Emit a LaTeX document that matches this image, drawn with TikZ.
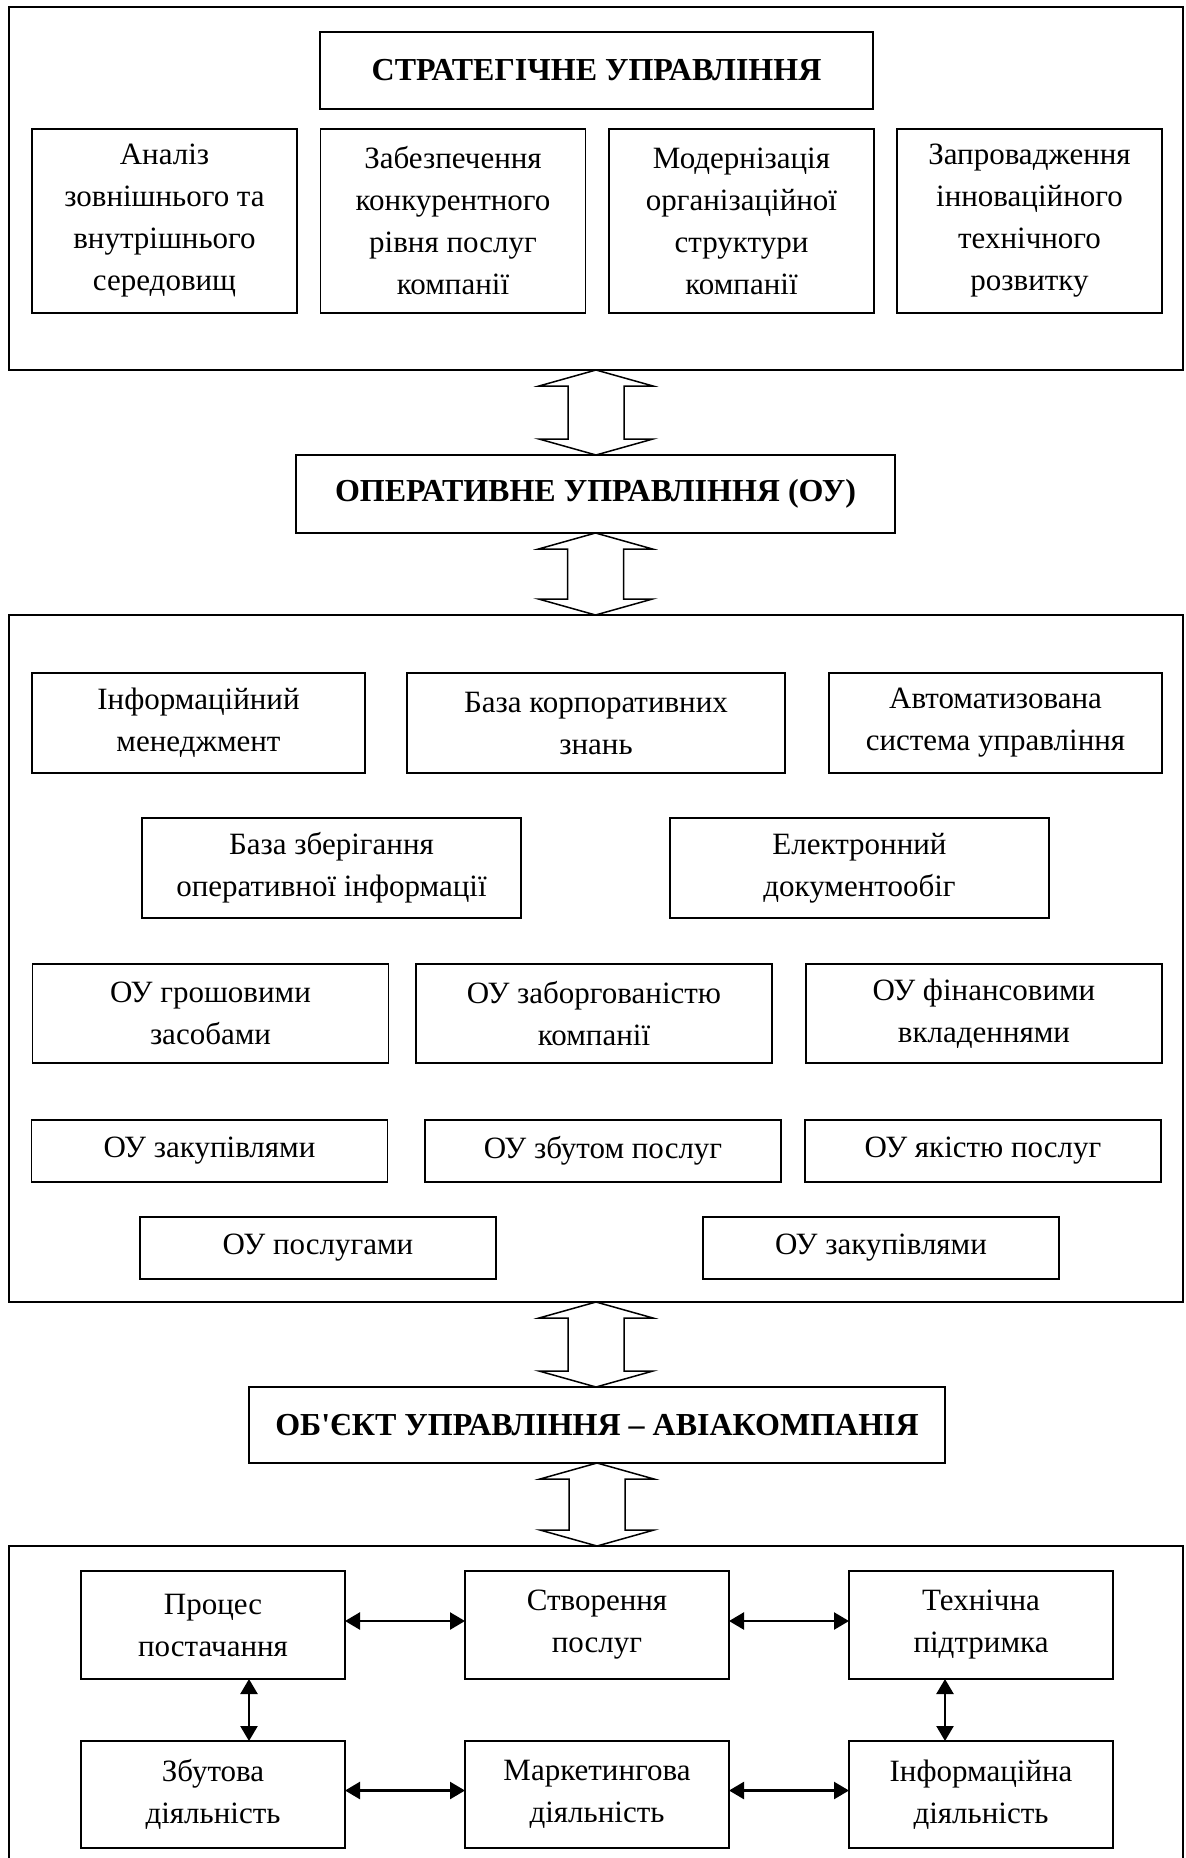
\documentclass[tikz,border=0pt]{standalone}
\usepackage{fontspec}
\setmainfont{Liberation Serif}
\usetikzlibrary{arrows.meta, calc}

\tikzset{
    box/.style={draw, line width=0.8pt, align=center, inner sep=0pt, outer sep=0pt,
        font=\fontsize{15.5}{21}\selectfont},
    title/.style={box, font=\fontsize{16}{21}\selectfont\bfseries},
    frame/.style={draw, line width=0.8pt, inner sep=0pt, outer sep=0pt, minimum width=587pt},
    dbl/.style={draw, fill=white, line width=0.75pt, line join=miter},
    link/.style={{Triangle[length=7.5pt, width=8.5pt]}-{Triangle[length=7.5pt, width=8.5pt]}, line width=1.2pt},
}

\begin{document}
\begin{tikzpicture}[x=0.5pt, y=-0.5pt]
    \useasboundingbox (0,0) rectangle (1185,1858);

    % рамки рівнів
    \node[frame, minimum height=181.5pt] (F1) at (596, 188.5) {};
    \node[frame, minimum height=343.5pt] (F2) at (596, 958.5) {};
    \node[frame, minimum height=167pt] (F3) at (596, 1713) {};

    % стратегічне управління
    \node[title, minimum width=276.5pt, minimum height=38.5pt] (SU) at (596.5, 70.5) {СТРАТЕГІЧНЕ УПРАВЛІННЯ};
    \node[box, minimum width=132.5pt, minimum height=92pt] (A1) at (164.5, 221) {Аналіз\\зовнішнього та\\внутрішнього\\середовищ};
    \node[box, minimum width=132.5pt, minimum height=92pt] (A2) at (453, 221) {Забезпечення\\конкурентного\\рівня послуг\\компанії};
    \node[box, minimum width=132.5pt, minimum height=92pt] (A3) at (741.5, 221) {Модернізація\\організаційної\\структури\\компанії};
    \node[box, minimum width=132.5pt, minimum height=92pt] (A4) at (1029.5, 221) {Запровадження\\інноваційного\\технічного\\розвитку};

    % оперативне управління
    \node[title, minimum width=299.5pt, minimum height=39pt] (OU) at (595.5, 494) {ОПЕРАТИВНЕ УПРАВЛІННЯ (ОУ)};

    \node[box, minimum width=166.5pt, minimum height=50pt] (B1) at (198.5, 723) {Інформаційний\\менеджмент};
    \node[box, minimum width=189pt, minimum height=50pt] (B2) at (596, 723) {База корпоративних\\знань};
    \node[box, minimum width=166.5pt, minimum height=50pt] (B3) at (995.5, 723) {Автоматизована\\система управління};
    \node[box, minimum width=189.5pt, minimum height=50pt] (B4) at (331.5, 868) {База зберігання\\оперативної інформації};
    \node[box, minimum width=189.5pt, minimum height=50pt] (B5) at (859.5, 868) {Електронний\\документообіг};
    \node[box, minimum width=178pt, minimum height=49.5pt] (B6) at (210.5, 1013.5) {ОУ грошовими\\засобами};
    \node[box, minimum width=178pt, minimum height=49.5pt] (B7) at (594, 1013.5) {ОУ заборгованістю\\компанії};
    \node[box, minimum width=178pt, minimum height=49.5pt] (B8) at (984, 1013.5) {ОУ фінансовими\\вкладеннями};
    \node[box, minimum width=178pt, minimum height=31pt] (B9) at (209.5, 1151) {ОУ закупівлями};
    \node[box, minimum width=178pt, minimum height=31pt] (B10) at (603, 1151) {ОУ збутом послуг};
    \node[box, minimum width=178pt, minimum height=31pt] (B11) at (983, 1151) {ОУ якістю послуг};
    \node[box, minimum width=178pt, minimum height=31pt] (B12) at (318, 1248) {ОУ послугами};
    \node[box, minimum width=178pt, minimum height=31pt] (B13) at (881, 1248) {ОУ закупівлями};

    % об'єкт управління
    \node[title, minimum width=348pt, minimum height=38pt] (OB) at (597, 1425) {ОБ\textquotesingle ЄКТ УПРАВЛІННЯ -- АВІАКОМПАНІЯ};

    \node[box, minimum width=132pt, minimum height=54pt] (C1) at (213, 1625) {Процес\\постачання};
    \node[box, minimum width=132pt, minimum height=54pt] (C2) at (597, 1625) {Створення\\послуг};
    \node[box, minimum width=132pt, minimum height=54pt] (C3) at (981, 1625) {Технічна\\підтримка};
    \node[box, minimum width=132pt, minimum height=53.5pt] (C4) at (213, 1794.5) {Збутова\\діяльність};
    \node[box, minimum width=132pt, minimum height=53.5pt] (C5) at (597, 1794.5) {Маркетингова\\діяльність};
    \node[box, minimum width=132pt, minimum height=53.5pt] (C6) at (981, 1794.5) {Інформаційна\\діяльність};

    % широкі стрілки між рівнями
    \foreach \a/\b in {F1/OU, OU/F2, F2/OB, OB/F3} {
        \draw[dbl] (\a.south) -- ++(57,16) -- ++(-29,0)
            -- ($(\a.south |- \b.north)+(28,-16)$) -- ++(29,0) -- (\a.south |- \b.north)
            -- ++(-57,-16) -- ++(29,0) -- ($(\a.south)+(-28,16)$) -- ++(-29,0) -- cycle;
    }

    % зв'язки
    \draw[link] ([yshift=2pt]C1.east) -- ([yshift=2pt]C2.west);
    \draw[link] ([yshift=2pt]C2.east) -- ([yshift=2pt]C3.west);
    \draw[link] ([yshift=2pt]C4.east) -- ([yshift=2pt]C5.west);
    \draw[link] ([yshift=2pt]C5.east) -- ([yshift=2pt]C6.west);
    \draw[link] ([xshift=18pt]C1.south) -- ([xshift=18pt]C4.north);
    \draw[link] ([xshift=-18pt]C3.south) -- ([xshift=-18pt]C6.north);
\end{tikzpicture}
\end{document}
